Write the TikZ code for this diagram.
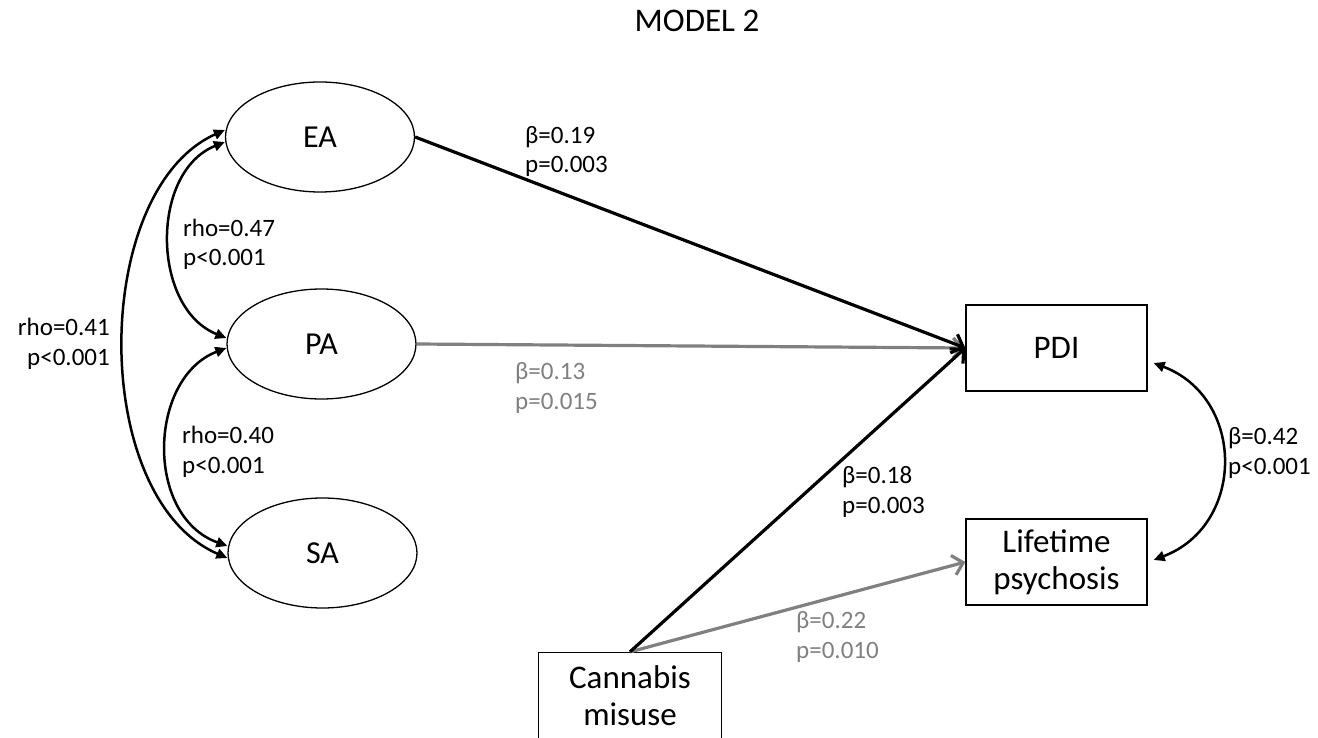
\documentclass[tikz,border=0pt]{standalone}
\usepackage{fontspec}
\setmainfont{Carlito}
\usetikzlibrary{arrows.meta,shapes.geometric}
\definecolor{grey1}{RGB}{128,128,128}
\begin{document}
\begin{tikzpicture}[x=1pt,y=-1pt,
  lat/.style={draw, ellipse, line width=1.3pt, minimum width=189pt, minimum height=110pt, inner sep=0pt, font=\fontsize{32}{38}\selectfont},
  obs/.style={draw, rectangle, line width=1.3pt, minimum width=181pt, minimum height=86pt, inner sep=0pt, align=center, font=\fontsize{33}{37}\selectfont},
  lbl/.style={inner sep=0pt, align=left, font=\fontsize{25}{29.5}\selectfont, anchor=base west},
  lblr/.style={lbl, align=right, anchor=base east},
  reg/.style={line width=3.2pt, -{Straight Barb[length=10pt,width=20pt]}},
  greg/.style={reg, draw=grey1},
  cov/.style={line width=2.5pt, {Triangle[length=11pt,width=10pt]}-{Triangle[length=11pt,width=10pt]}}
]
\useasboundingbox (0,0) rectangle (1318,738);

\node[font=\fontsize{33}{38}\selectfont, anchor=base, inner sep=0pt] (title) at (697,32) {MODEL 2};

\node[lat] (ea) at (320,137) {EA};
\node[lat] (pa) at (321.5,344) {PA};
\node[lat] (sa) at (322.5,553) {SA};

\node[obs] (pdi) at (1056.5,348) {PDI};
\node[obs] (life) at (1056.5,562) {Lifetime\\psychosis};
\node[obs, minimum width=183pt] (cann) at (630,695.5) {Cannabis\\misuse};

% regressions
\draw[greg] (pa.east) -- (pdi.west);
\draw[greg] (cann.north) -- (life.west);
\draw[reg] (ea.east) -- (pdi.west);
\draw[reg] (cann.north) -- (pdi.west);

% covariances
\draw[cov] ([yshift=-5pt]ea.west) .. controls +(-75,30) and +(-75,-30) .. ([yshift=6pt]pa.west);
\draw[cov] ([yshift=7pt]ea.west) .. controls +(-134,60) and +(-139,-60) .. ([yshift=-5pt]sa.west);
\draw[cov] ([yshift=-4pt]pa.west) .. controls +(-78,30) and +(-83,-30) .. ([yshift=7pt]sa.west);
\draw[cov] ([xshift=6pt,yshift=-15pt]pdi.east) .. controls +(92,35) and +(92,-35) .. ([xshift=6pt,yshift=2pt]life.east);

% labels (anchored at the baseline of the last line)
\node[lbl] (l1) at (525,173) {β=0.19\\p=0.003};
\node[lbl] (l2) at (183,266) {rho=0.47\\p<0.001};
\node[lblr] (l3) at (110,365) {rho=0.41\\p<0.001};
\node[lbl, text=grey1] (l4) at (515,409) {β=0.13\\p=0.015};
\node[lbl] (l5) at (182,473) {rho=0.40\\p<0.001};
\node[lbl] (l6) at (842,513) {β=0.18\\p=0.003};
\node[lbl] (l7) at (1228,474) {β=0.42\\p<0.001};
\node[lbl, text=grey1] (l8) at (796,658) {β=0.22\\p=0.010};
\end{tikzpicture}
\end{document}
